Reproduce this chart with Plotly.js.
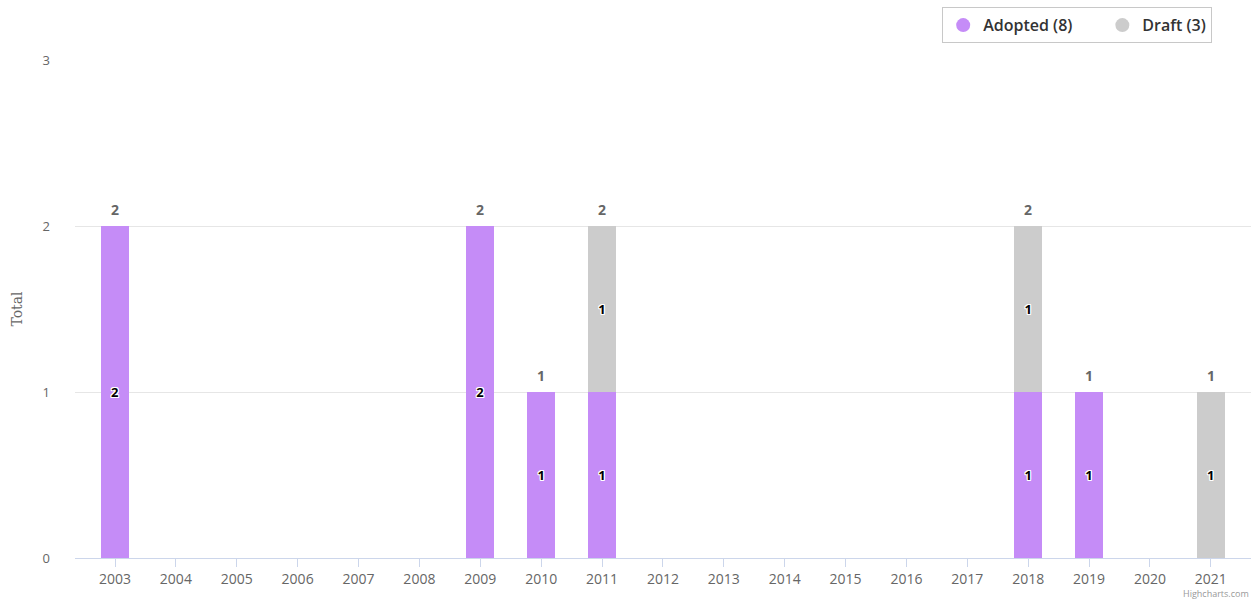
<!DOCTYPE html>
<html>
<head>
<meta charset="utf-8">
<script src="https://cdn.plot.ly/plotly-3.0.1.min.js"></script>
<style>
  html, body { margin: 0; padding: 0; background: #ffffff; }
  #chart { width: 1254px; height: 604px; }
</style>
</head>
<body>
<div id="chart"></div>
<script>
// ---- Data ----
const years = ["2003","2004","2005","2006","2007","2008","2009","2010","2011","2012","2013","2014","2015","2016","2017","2018","2019","2020","2021"];
const adopted = [2, null, null, null, null, null, 2, 1, 1, null, null, null, null, null, null, 1, 1, null, null];
const draft   = [null, null, null, null, null, null, null, null, 1, null, null, null, null, null, null, 1, null, null, 1];
const seriesNames = ["Adopted", "Draft"];
const yTicks = [0, 1, 2, 3];

// ---- Derived ----
const totals = years.map((_, i) => (adopted[i] || 0) + (draft[i] || 0));
const sum = a => a.reduce((s, v) => s + (v || 0), 0);
const purple = "#c58cf7";
const grey = "#cccccc";
const font = "'Open Sans', 'DejaVu Sans', sans-serif";
const outline = "1px 1px 0 #fff, -1px -1px 0 #fff, 1px -1px 0 #fff, -1px 1px 0 #fff, 0 1px 0 #fff, 0 -1px 0 #fff, 1px 0 0 #fff, -1px 0 0 #fff";
const gap = "&nbsp;".repeat(6);

const insideFont = { family: font, size: 13, color: "#000000", weight: 700, shadow: outline };

const traces = [
  {
    type: "bar", x: years, y: adopted, name: seriesNames[0], showlegend: false,
    marker: { color: purple, line: { width: 0 } }, width: 0.46,
    text: adopted.map(v => v == null ? "" : String(v)),
    textposition: "inside", insidetextanchor: "middle", textangle: 0,
    textfont: insideFont, hoverinfo: "x+y+name", constraintext: "none"
  },
  {
    type: "bar", x: years, y: draft, name: seriesNames[1], showlegend: false,
    marker: { color: grey, line: { width: 0 } }, width: 0.46,
    text: draft.map(v => v == null ? "" : String(v)),
    textposition: "inside", insidetextanchor: "middle", textangle: 0,
    textfont: insideFont, hoverinfo: "x+y+name", constraintext: "none"
  },
  {
    type: "scatter", mode: "markers", x: [null], y: [null],
    name: seriesNames[0] + " (" + sum(adopted) + ")" + gap,
    marker: { symbol: "circle", size: 14, color: purple }
  },
  {
    type: "scatter", mode: "markers", x: [null], y: [null],
    name: seriesNames[1] + " (" + sum(draft) + ")",
    marker: { symbol: "circle", size: 14, color: grey }
  }
];

// Stack totals above each column (x given as category index)
const totalAnnotations = [];
years.forEach((yr, i) => {
  if (totals[i] > 0) {
    totalAnnotations.push({
      x: i, y: totals[i], xref: "x", yref: "y", yanchor: "middle", yshift: 17,
      text: String(totals[i]), showarrow: false,
      font: { family: font, size: 14, color: "#666666", weight: 700 }
    });
  }
});

const layout = {
  width: 1254, height: 604,
  margin: { l: 75, r: 3, t: 60, b: 46, pad: 0 },
  paper_bgcolor: "#ffffff", plot_bgcolor: "#ffffff",
  barmode: "stack",
  font: { family: font, color: "#666666", size: 13 },
  showlegend: true,
  legend: {
    orientation: "h", x: 0.967, xanchor: "right", y: 1.106, yanchor: "top",
    traceorder: "normal",
    bordercolor: "#c8c8c8", borderwidth: 1, bgcolor: "#ffffff",
    font: { family: font, size: 16, color: "#333333", weight: 600 }
  },
  xaxis: {
    type: "category", range: [-0.657, 18.66],
    showgrid: false, zeroline: false,
    showline: true, linecolor: "#ccd6eb", linewidth: 1,
    ticks: "outside", ticklen: 8, tickcolor: "#ccd6eb",
    tickfont: { family: font, size: 14, color: "#666666" },
    fixedrange: true
  },
  yaxis: {
    range: [0, 3], tickvals: yTicks, ticktext: yTicks.map(String),
    showgrid: true, gridcolor: "#e6e6e6", gridwidth: 1,
    zeroline: false, showline: false, ticks: "",
    ticklabelstandoff: 24,
    tickfont: { family: font, size: 13, color: "#666666" },
    title: { text: "Total", font: { family: "'DejaVu Serif', serif", size: 14, color: "#666666" }, standoff: 16 },
    fixedrange: true
  },
  annotations: totalAnnotations.concat([
    {
      xref: "paper", yref: "paper", x: 1.0, y: -0.088, xanchor: "right", yanchor: "bottom",
      text: "Highcharts.com", showarrow: false,
      font: { family: font, size: 9, color: "#999999" }
    }
  ])
};

Plotly.newPlot("chart", traces, layout, { displayModeBar: false, staticPlot: true });
</script>
</body>
</html>
